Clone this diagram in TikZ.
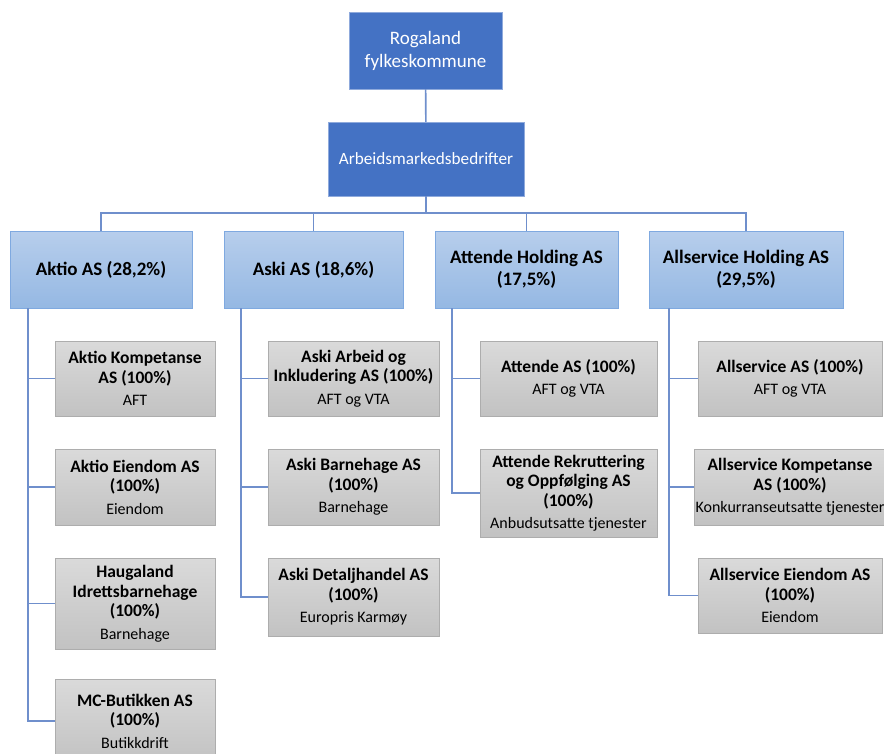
\documentclass[tikz,border=0pt]{standalone}
\usepackage{fontspec}
\setmainfont{Carlito}
\definecolor{darkblue}{HTML}{4472C4}
\definecolor{darkrim}{HTML}{8FAADC}
\definecolor{lighttop}{HTML}{B7CEEC}
\definecolor{lightbot}{HTML}{95B8E3}
\definecolor{lightrim}{HTML}{7FA9E0}
\definecolor{greytop}{HTML}{DADADA}
\definecolor{greybot}{HTML}{C2C2C2}
\definecolor{greyrim}{HTML}{ADADAD}
\definecolor{wire}{HTML}{6F8FCC}
\newcommand{\subtxt}[1]{\\[3pt]{\mdseries\fontsize{16}{19}\selectfont #1}}
\tikzset{
	topbox/.style={rectangle,draw=darkrim,fill=darkblue,text=white,align=center,inner sep=2pt},
	holdbox/.style={rectangle,draw=lightrim,top color=lighttop,bottom color=lightbot,align=center,inner sep=2pt,
		font=\fontsize{19}{22}\selectfont\bfseries,minimum height=77pt},
	kidbox/.style={rectangle,draw=greyrim,top color=greytop,bottom color=greybot,align=center,inner sep=1pt,
		font=\fontsize{17.5}{19.5}\selectfont\bfseries},
	wirestyle/.style={draw=wire,line width=1.6pt}
}
\begin{document}
\begin{tikzpicture}[x=1pt,y=-1pt]
	\useasboundingbox (0,0) rectangle (884,753);
	\clip (0,0) rectangle (884,753);
	
	% top of the tree
	\node[topbox,minimum width=153pt,minimum height=77pt,font=\fontsize{19}{23}\selectfont] (rfk) at (425.5,50.5) {Rogaland\\fylkeskommune};
	\node[topbox,minimum width=196pt,minimum height=74pt,font=\fontsize{17.2}{20}\selectfont] (amb) at (426,159) {Arbeidsmarkedsbedrifter};
	
	% holding companies
	\begin{scope}[every node/.style={holdbox}]
		\node[minimum width=182pt] (aktio) at (101,269.5) {Aktio AS (28,2\%)};
		\node[minimum width=179pt] (aski) at (313.5,269.5) {Aski AS (18,6\%)};
		\node[minimum width=183pt] (att) at (526.5,269.5) {Attende Holding AS\\(17,5\%)};
		\node[minimum width=194pt] (alls) at (746,269.5) {Allservice Holding AS\\(29,5\%)};
	\end{scope}
	
	% subsidiaries
	\begin{scope}[every node/.style={kidbox}]
		\node[minimum width=160pt,minimum height=75pt] (ak1) at (135,378.5) {Aktio Kompetanse\\AS (100\%)\subtxt{AFT}};
		\node[minimum width=160pt,minimum height=76pt] (ak2) at (135,487) {Aktio Eiendom AS\\(100\%)\subtxt{Eiendom}};
		\node[minimum width=160pt,minimum height=91pt] (ak3) at (135,603.5) {Haugaland\\Idrettsbarnehage\\(100\%)\subtxt{Barnehage}};
		\node[minimum width=160pt,minimum height=84pt] (ak4) at (135,721) {MC-Butikken AS\\(100\%)\subtxt{Butikkdrift}};
		
		\node[minimum width=171pt,minimum height=75pt] (as1) at (353.5,378.5) {Aski Arbeid og\\Inkludering AS (100\%)\subtxt{AFT og VTA}};
		\node[minimum width=171pt,minimum height=76pt] (as2) at (353.5,487) {Aski Barnehage AS\\(100\%)\subtxt{Barnehage}};
		\node[minimum width=171pt,minimum height=78pt] (as3) at (353.5,597) {Aski Detaljhandel AS\\(100\%)\subtxt{Europris Karmøy}};
		
		\node[minimum width=177pt,minimum height=75pt] (at1) at (568.5,378.5) {Attende AS (100\%)\subtxt{AFT og VTA}};
		\node[minimum width=177pt,minimum height=88pt] (at2) at (568.5,493) {Attende Rekruttering\\og Oppfølging AS\\(100\%)\subtxt{Anbudsutsatte tjenester}};
		
		\node[minimum width=184pt,minimum height=75pt] (al1) at (790,378.5) {Allservice AS (100\%)\subtxt{AFT og VTA}};
		\node[minimum width=184pt,minimum height=76pt] (al2) at (790,487) {Allservice Kompetanse\\AS (100\%)\subtxt{Konkurranseutsatte tjenester}};
		\node[minimum width=184pt,minimum height=75pt] (al3) at (790,595.5) {Allservice Eiendom AS\\(100\%)\subtxt{Eiendom}};
	\end{scope}
	
	\begin{scope}[every path/.style={wirestyle}]
		\draw (rfk) -- (amb);
		\draw (amb.south) -- ++(0,17) -| (aktio.north);
		\draw (amb.south) -- ++(0,17) -| (aski.north);
		\draw (amb.south) -- ++(0,17) -| (att.north);
		\draw (amb.south) -- ++(0,17) -| (alls.north);
		
		\foreach \k in {ak1,ak2,ak3,ak4}
			\draw ([xshift=18pt]aktio.south west) |- (\k.west);
		\foreach \k in {as1,as2,as3}
			\draw ([xshift=17pt]aski.south west) |- (\k.west);
		\foreach \k in {at1,at2}
			\draw ([xshift=17pt]att.south west) |- (\k.west);
		\foreach \k in {al1,al2,al3}
			\draw ([xshift=20pt]alls.south west) |- (\k.west);
	\end{scope}
\end{tikzpicture}
\end{document}
